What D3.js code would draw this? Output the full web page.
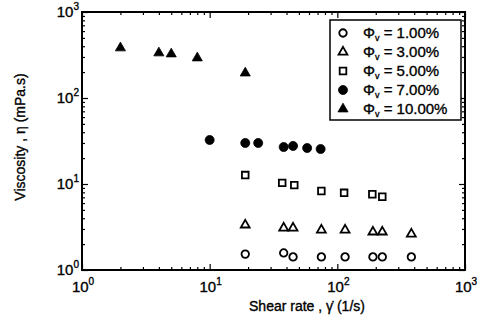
<!DOCTYPE html>
<html>
<head>
<meta charset="utf-8">
<script src="https://cdn.jsdelivr.net/npm/d3@7"></script>
<style>
  body { margin: 0; background: #fff; }
  text { font-family: "Liberation Sans", Arial, sans-serif; fill: #000; stroke: #000; stroke-width: 0.35px; }
</style>
</head>
<body>
<svg id="chart" width="480" height="335"></svg>
<script>
// shear rate (1/s) and viscosity (mPa.s)
const rate1 = [19, 38, 45, 75, 115, 190, 225, 380];
const visc1 = [1.53, 1.58, 1.42, 1.42, 1.42, 1.42, 1.42, 1.42];
const rate3 = [19, 38, 45, 75, 115, 190, 225, 380];
const visc3 = [3.34, 3.08, 3.08, 2.92, 2.92, 2.77, 2.77, 2.62];
const rate5 = [19, 37, 46, 75, 113, 188, 225];
const visc5 = [12.7, 10.3, 9.7, 8.3, 7.9, 7.6, 7.1];
const rate7 = [10, 19, 24, 38, 45, 58, 74];
const visc7 = [32.5, 30, 30, 26.9, 27.7, 26.2, 25.5];
const rate10 = [2, 4, 5, 8, 19];
const visc10 = [382, 334, 325, 292, 195];

const seriesNames = ["1.00%", "3.00%", "5.00%", "7.00%", "10.00%"];
const decades = [0, 1, 2, 3];

const svg = d3.select("#chart");
const plotL = 82, plotR = 465, plotT = 12, plotB = 270;

const x = d3.scaleLog().domain([1, 1000]).range([plotL, plotR]);
const y = d3.scaleLog().domain([1, 1000]).range([plotB, plotT]);

// minor ticks 2..9 in each decade
let minor = [];
for (let d = 0; d < 3; d++) {
  for (let k = 2; k < 10; k++) minor.push(k * Math.pow(10, d));
}
const major = decades.map(d => Math.pow(10, d));

function drawAxis(axis, tx, ty, vals, size) {
  let g = svg.append("g")
    .attr("transform", "translate(" + tx + "," + ty + ")")
    .call(axis.tickValues(vals).tickSize(size).tickFormat(""));
  g.select(".domain").remove();
  g.selectAll("line").attr("stroke", "#000").attr("stroke-width", 1.2);
}

drawAxis(d3.axisBottom(x), 0, plotB, major, -6);
drawAxis(d3.axisBottom(x), 0, plotB, minor, -3);
drawAxis(d3.axisTop(x), 0, plotT, major, -6);
drawAxis(d3.axisTop(x), 0, plotT, minor, -3);
drawAxis(d3.axisLeft(y), plotL, 0, major, -6);
drawAxis(d3.axisLeft(y), plotL, 0, minor, -3);
drawAxis(d3.axisRight(y), plotR, 0, major, -6);
drawAxis(d3.axisRight(y), plotR, 0, minor, -3);

// frame
svg.append("rect")
  .attr("x", plotL).attr("y", plotT)
  .attr("width", plotR - plotL).attr("height", plotB - plotT)
  .attr("fill", "none").attr("stroke", "#000").attr("stroke-width", 2);

// tick labels 10^n
decades.forEach(d => {
  let tx = svg.append("text")
    .attr("x", x(Math.pow(10, d)) + 1).attr("y", plotB + 22)
    .attr("text-anchor", "middle").attr("font-size", 15);
  tx.append("tspan").text("10");
  tx.append("tspan").attr("dy", -7).attr("font-size", 10).text(d);

  let ty = svg.append("text")
    .attr("x", plotL - 3).attr("y", y(Math.pow(10, d)) + 5)
    .attr("text-anchor", "end").attr("font-size", 15);
  ty.append("tspan").text("10");
  ty.append("tspan").attr("dy", -7).attr("font-size", 10).text(d);
});

// axis titles
svg.append("text")
  .attr("x", 307).attr("y", 311)
  .attr("text-anchor", "middle").attr("font-size", 14)
  .text("Shear rate ,  \u03B3\u0307 (1/s)");

svg.append("text")
  .attr("transform", "translate(25,137) rotate(-90)")
  .attr("text-anchor", "middle").attr("font-size", 14)
  .text("Viscosity ,  \u03B7  (mPa.s)");

// series
const series = [
  { rate: rate1, visc: visc1, type: d3.symbolCircle, size: 44, fill: "none" },
  { rate: rate3, visc: visc3, type: d3.symbolTriangle, size: 34, fill: "none" },
  { rate: rate5, visc: visc5, type: d3.symbolSquare, size: 44, fill: "none" },
  { rate: rate7, visc: visc7, type: d3.symbolCircle, size: 64, fill: "#000" },
  { rate: rate10, visc: visc10, type: d3.symbolTriangle, size: 44, fill: "#000" }
];

function marker(g, s) {
  g.attr("d", d3.symbol().type(s.type).size(s.size)())
    .attr("fill", s.fill)
    .attr("stroke", "#000")
    .attr("stroke-width", s.fill == "none" ? 1.8 : 0.8);
}

series.forEach(s => {
  svg.append("g").selectAll("path")
    .data(s.rate.map((r, i) => [r, s.visc[i]]))
    .enter().append("path")
    .attr("transform", d => "translate(" + x(d[0]) + "," + y(d[1]) + ")")
    .call(marker, s);
});

// legend
const leg = svg.append("g");
leg.append("rect")
  .attr("x", 330).attr("y", 20).attr("width", 131).attr("height", 100)
  .attr("fill", "#fff").attr("stroke", "#000").attr("stroke-width", 1.5);

series.forEach((s, i) => {
  let ly = 33 + i * 19;
  leg.append("path")
    .attr("transform", "translate(343," + ly + ")")
    .call(marker, s);
  let t = leg.append("text")
    .attr("x", 363).attr("y", ly + 5).attr("font-size", 15);
  t.append("tspan").text("\u03A6");
  t.append("tspan").attr("dy", 3).attr("font-size", 9).text("v");
  t.append("tspan").attr("dy", -3).text(" = " + seriesNames[i]);
});
</script>
</body>
</html>
